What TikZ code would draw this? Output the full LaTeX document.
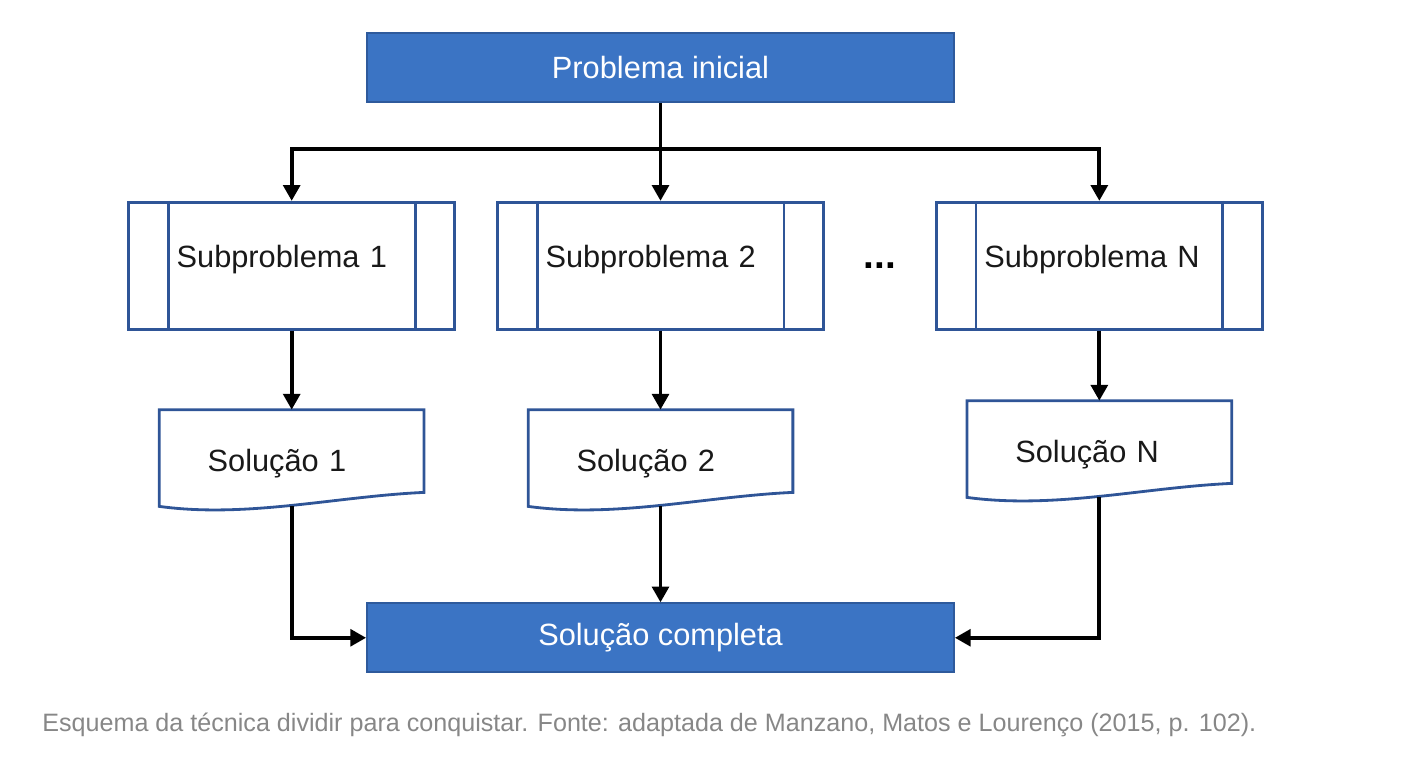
\documentclass[tikz,border=0pt]{standalone}
\usepackage{fontspec}
\setmainfont{Liberation Sans}
\usetikzlibrary{arrows.meta,positioning,calc}
\definecolor{azulbloco}{RGB}{59,116,196}
\definecolor{azulborda}{RGB}{46,90,156}
\definecolor{azulcaixa}{RGB}{47,85,151}
\definecolor{cinzalegenda}{RGB}{135,135,135}
\tikzset{
  esquema/.style={>={Triangle[width=9.5pt,length=9pt]},
    every node/.style={font=\fontsize{17.5}{20}\selectfont}},
  bloco/.style={draw=azulborda,fill=azulbloco,text=white,line width=1pt,
    minimum width=11.74cm,minimum height=1.38cm},
  subprob/.style={draw=azulcaixa,line width=1.6pt,minimum width=6.52cm,
    minimum height=2.54cm,inner xsep=0.96cm,text width=4.6cm,align=left,
    text height=0.43cm,text depth=0.35cm,text=black!90},
  solucao/.style={minimum width=5.28cm,minimum height=1.92cm,inner xsep=0.96cm,
    text width=3.36cm,align=left,text height=0.62cm,text depth=0.1cm,text=black!90},
  docborda/.style={draw=azulcaixa,line width=1.6pt},
  haste/.style={line width=1.5pt},
  seta/.style={->,line width=2.2pt},
  legenda/.style={text=cinzalegenda,inner sep=0pt,font=\fontsize{14.3}{17}\selectfont}}
\begin{document}
\begin{tikzpicture}[esquema]
  \useasboundingbox (0,0) rectangle (28.24,-15.68);
  \node[bloco] (prob) at (13.21,-1.35) {Problema inicial};
  \node[subprob,below=1.96cm of prob] (sub2) {Subproblema 2};
  \node[subprob,left=0.8cm of sub2] (sub1) {Subproblema 1};
  \node[subprob,right=2.2cm of sub2] (subN) {Subproblema N};
  \node[font=\fontsize{22}{24}\selectfont\bfseries] (dots) at ($(sub2.east)!0.5!(subN.west)$) {...};
  \node[solucao,below=1.58cm of sub1] (sol1) {Solução 1};
  \node[solucao,below=1.58cm of sub2] (sol2) {Solução 2};
  \node[solucao,below=1.4cm of subN] (solN) {Solução N};
  \node[bloco,below=1.92cm of sol2] (final) {Solução completa};
  \node[legenda,anchor=west] (legenda) at (0.84,-14.5)
    {Esquema da técnica dividir para conquistar. Fonte: adaptada de Manzano, Matos e Lourenço (2015, p. 102).};
  % faixas laterais dos subproblemas
  \foreach \s in {sub1,sub2,subN}
    \draw[docborda] ([xshift=0.82cm]\s.north west) -- ([xshift=0.82cm]\s.south west)
      ([xshift=-0.82cm]\s.north east) -- ([xshift=-0.82cm]\s.south east);
  % contorno de documento das solucoes
  \foreach \s in {sol1,sol2,solN}
    \draw[docborda] (\s.north west) -- (\s.north east) -- ([yshift=0.28cm]\s.south east)
      .. controls +(-1.76,-0.08) and +(1.76,-0.24) .. (\s.south west) -- cycle;
  \draw[haste] (prob.south) -- ++(0,-0.92) coordinate (bus);
  \draw[seta] (bus) -| (sub1);
  \draw[seta] (bus) -- (sub2);
  \draw[seta] (bus) -| (subN);
  \foreach \i in {1,2,N}
    \draw[seta] (sub\i) -- (sol\i);
  \draw[seta] (sol1) |- (final);
  \draw[seta] (sol2) -- (final);
  \draw[seta] (solN) |- (final);
\end{tikzpicture}
\end{document}
